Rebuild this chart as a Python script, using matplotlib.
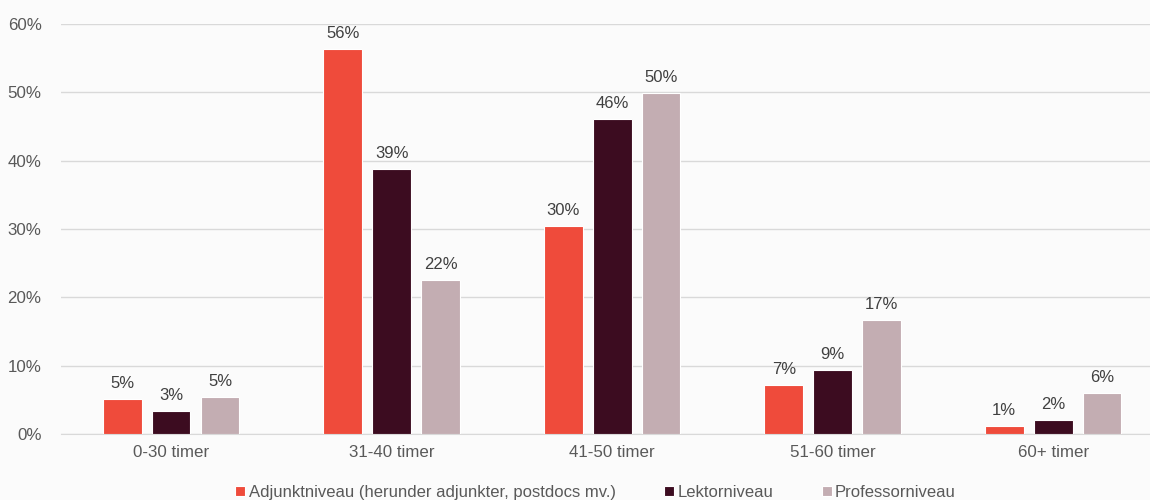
import matplotlib
matplotlib.use("Agg")
import matplotlib.pyplot as plt
import numpy as np
from matplotlib.ticker import FuncFormatter

plt.rcParams['font.family'] = ['Liberation Sans', 'DejaVu Sans']

categories = ["0-30 timer", "31-40 timer", "41-50 timer", "51-60 timer", "60+ timer"]
series_names = ["Adjunktniveau (herunder adjunkter, postdocs mv.)", "Lektorniveau", "Professorniveau"]
adjunkt = [5.1, 56.3, 30.4, 7.2, 1.2]
lektor = [3.4, 38.8, 46.1, 9.4, 2.0]
professor = [5.4, 22.5, 49.9, 16.7, 6.0]
colors = ["#EF4B3B", "#3C0C20", "#C3ADB2"]

fig = plt.figure(figsize=(11.5, 5.0), dpi=100)
fig.patch.set_facecolor("#FBFBFB")
ax = fig.add_axes([0.053, 0.132, 0.947, 0.82])
ax.set_facecolor("#FBFBFB")

x = np.arange(len(categories))
width = 0.175
step = 0.222
text_color = "#595959"
for i, (vals, name, col) in enumerate(zip([adjunkt, lektor, professor], series_names, colors)):
    pos = x + (i - 1) * step
    bars = ax.bar(pos, vals, width=width, color=col, label=name, edgecolor="white", linewidth=0.8, zorder=3)
    for b, v in zip(bars, vals):
        ax.text(b.get_x() + b.get_width() / 2, v + 1.2, f"{round(v):.0f}%", ha="center", va="bottom",
                fontsize=12, color="#404040")

ax.set_xlim(-0.5, -0.5 + 1089 / 220.5)
ax.set_ylim(0, 60)
ax.set_yticks(np.arange(0, 61, 10))
ax.yaxis.set_major_formatter(FuncFormatter(lambda v, p: f"{v:.0f}%"))
ax.set_xticks(x)
ax.set_xticklabels(categories)
ax.grid(axis="y", color="#D9D9D9", linewidth=1, zorder=0)
for s in ["top", "right", "left"]:
    ax.spines[s].set_visible(False)
ax.spines["bottom"].set_color("#D9D9D9")
ax.tick_params(axis="both", length=0, labelsize=12.2, colors=text_color, pad=8)
ax.tick_params(axis="y", pad=14)

leg = fig.legend(loc="lower center", bbox_to_anchor=(0.518, -0.03), ncol=3, frameon=False,
                 fontsize=12, handlelength=0.6, handleheight=0.6, handletextpad=0.2, columnspacing=2.9)
for t in leg.get_texts():
    t.set_color(text_color)

fig.savefig("out.png", dpi=100, facecolor=fig.get_facecolor())
